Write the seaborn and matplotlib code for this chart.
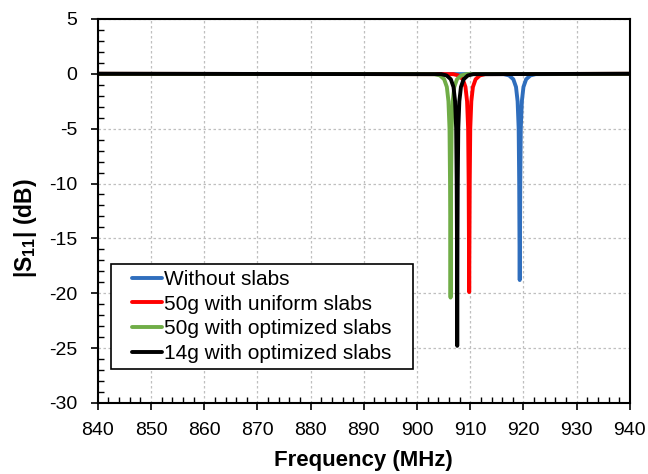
import matplotlib
matplotlib.use("Agg")
import matplotlib.pyplot as plt
import seaborn as sns
import pandas as pd
from matplotlib.ticker import MultipleLocator
from matplotlib.patches import Rectangle

# ---- data ----
labels = ["Without slabs", "50g with uniform slabs",
          "50g with optimized slabs", "14g with optimized slabs"]
colors = ["#2F6EBD", "#FF0000", "#70AD47", "#000000"]

freq_blue = [840, 916.3, 917.3, 918.1, 918.6, 918.9, 919.1, 919.2, 919.25, 919.3,
             919.35, 919.4, 919.5, 919.7, 920.0, 920.5, 921.3, 922.3, 940]
s11_blue = [0, -0.03, -0.15, -0.5, -1.2, -2.5, -5, -10, -15, -18.8,
            -15, -10, -5, -2.5, -1.2, -0.5, -0.15, -0.03, 0]

freq_red = [840, 906.8, 907.8, 908.6, 909.1, 909.4, 909.6, 909.7, 909.75, 909.8,
            909.85, 909.9, 910.0, 910.2, 910.5, 911.0, 911.8, 912.8, 940]
s11_red = [0, -0.03, -0.15, -0.5, -1.2, -2.5, -5, -10, -15, -19.9,
           -15, -10, -5, -2.5, -1.2, -0.5, -0.15, -0.03, 0]

freq_green = [840, 903.3, 904.3, 905.1, 905.6, 905.9, 906.1, 906.2, 906.25, 906.3,
              906.35, 906.4, 906.5, 906.7, 907.0, 907.5, 908.3, 909.3, 940]
s11_green = [0, -0.03, -0.15, -0.5, -1.2, -2.5, -5, -10, -15, -20.4,
             -15, -10, -5, -2.5, -1.2, -0.5, -0.15, -0.03, 0]

freq_black = [840, 904.55, 905.55, 906.35, 906.85, 907.15, 907.35, 907.45, 907.5, 907.55,
              907.6, 907.65, 907.75, 907.95, 908.25, 908.75, 909.55, 910.55, 940]
s11_black = [0, -0.03, -0.15, -0.5, -1.2, -2.5, -5, -10, -15, -24.8,
             -15, -10, -5, -2.5, -1.2, -0.5, -0.15, -0.03, 0]

x_ticks = list(range(840, 941, 10))
y_ticks = list(range(-30, 6, 5))

frames = []
for lab, f, s in zip(labels, [freq_blue, freq_red, freq_green, freq_black],
                     [s11_blue, s11_red, s11_green, s11_black]):
    frames.append(pd.DataFrame({"Frequency": f, "S11": s, "series": lab}))
df = pd.concat(frames, ignore_index=True)

sns.set_theme(style="white")
plt.rcParams["font.family"] = ["Liberation Sans", "DejaVu Sans"]
plt.rcParams["axes.unicode_minus"] = False
plt.rcParams["text.color"] = "black"
plt.rcParams["axes.labelcolor"] = "black"
plt.rcParams["xtick.color"] = "black"
plt.rcParams["ytick.color"] = "black"
plt.rcParams["mathtext.fontset"] = "custom"
plt.rcParams["mathtext.bf"] = "Liberation Sans:bold"
plt.rcParams["mathtext.rm"] = "Liberation Sans:bold"
plt.rcParams["mathtext.default"] = "bf"

fig = plt.figure(figsize=(6.48, 4.74), dpi=100)
ax = fig.add_axes([0.151, 0.150, 0.821, 0.810])

sns.lineplot(data=df, x="Frequency", y="S11", hue="series", hue_order=labels,
             palette=colors, estimator=None, sort=False, linewidth=2.8, ax=ax)

ax.set_xlim(840, 940)
ax.set_ylim(-30, 5)
ax.set_xticks(x_ticks)
ax.set_yticks(y_ticks)
ax.xaxis.set_minor_locator(MultipleLocator(2))
ax.yaxis.set_minor_locator(MultipleLocator(1))
ax.tick_params(axis="both", which="major", direction="out", length=5, width=1.2,
               color="black", labelsize=14, labelcolor="black")
ax.tick_params(axis="x", which="major", pad=9)
ax.tick_params(axis="y", which="major", pad=10)
ax.tick_params(axis="both", which="minor", direction="in", length=4, width=1.0,
               color="black")
ax.tick_params(bottom=True, left=True, which="both")
ax.grid(True, which="major", linestyle=(0, (2, 2)), color="#BFBFBF", linewidth=0.9)
ax.set_axisbelow(True)
for sp in ax.spines.values():
    sp.set_color("black")
    sp.set_linewidth(1.5)

ax.set_xlabel("Frequency (MHz)", fontsize=16, fontweight="bold", labelpad=8,
              color="black")
ax.set_ylabel(r"|S$_{11}$| (dB)", fontsize=16.5, fontweight="bold", labelpad=7,
              color="black")
ax.yaxis.label.set_y(0.456)

leg = ax.legend(loc="lower left", bbox_to_anchor=(0.056, 0.093), borderaxespad=0,
                fontsize=15, frameon=False, labelcolor="black",
                handlelength=1.45, handletextpad=0.1, labelspacing=0.27,
                borderpad=0.2)
for h in leg.get_lines():
    h.set_linewidth(2.8)

# frame around the legend: wider horizontal padding than vertical
fig.canvas.draw()
bb = leg.get_window_extent()
padx, pady = 17, 2
rect = Rectangle((bb.x0 - padx, bb.y0 - pady), bb.width + 2 * padx, bb.height + 2 * pady,
                 transform=None, facecolor="white", edgecolor="black", linewidth=1.2,
                 zorder=4)
fig.patches.append(rect)
leg.remove()
fig.legends.append(leg)
leg.set_figure(fig)

fig.savefig("out.png", dpi=100)
